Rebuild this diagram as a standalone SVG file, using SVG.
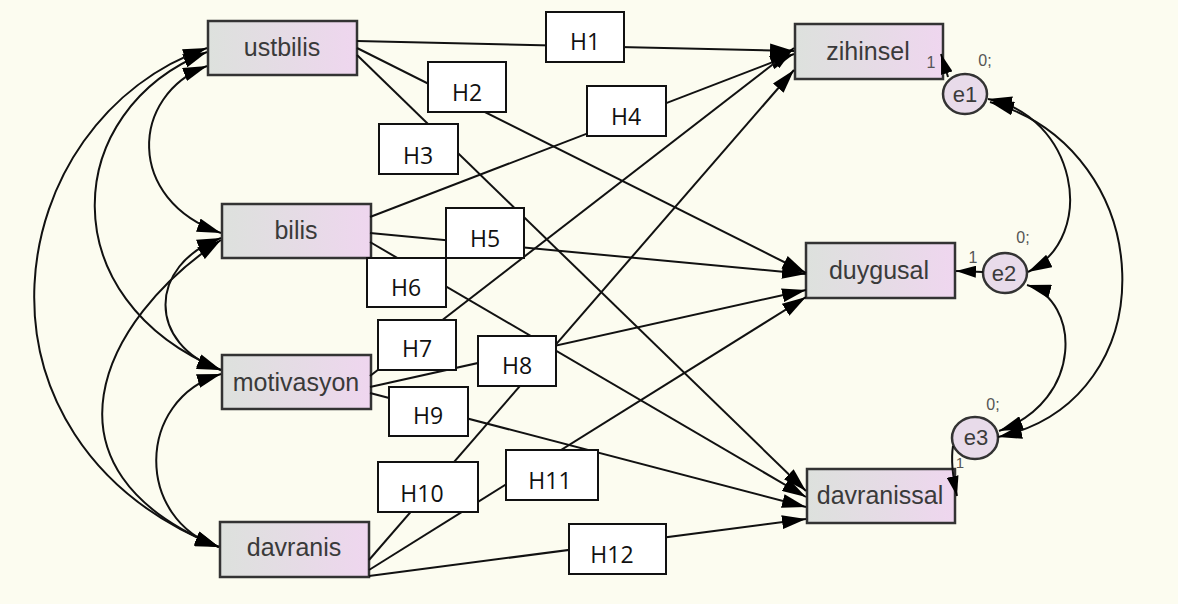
<svg xmlns="http://www.w3.org/2000/svg" width="1192" height="612" viewBox="0 0 1192 612">
  <defs>
    <linearGradient id="boxFill" x1="0" y1="0" x2="1" y2="0">
      <stop offset="0" stop-color="#dde1dd"/>
      <stop offset="0.55" stop-color="#e6dbe6"/>
      <stop offset="1" stop-color="#efd6ef"/>
    </linearGradient>
    <marker id="head" markerUnits="userSpaceOnUse" markerWidth="24" markerHeight="14" refX="24" refY="7" orient="auto-start-reverse" viewBox="0 0 24 14">
      <path d="M0,0 L24,7 L0,14 Z" fill="#000"/>
    </marker>
    <marker id="headSmall" markerUnits="userSpaceOnUse" markerWidth="20" markerHeight="12" refX="20" refY="6" orient="auto-start-reverse" viewBox="0 0 20 12">
      <path d="M0,0 L20,6 L0,12 Z" fill="#000"/>
    </marker>
  </defs>
  <style>
    .bg { fill: #fcfcf0; }
    .node rect { fill: url(#boxFill); stroke: #333; stroke-width: 2.5; }
    .node ellipse { fill: #e8dbea; stroke: #333; stroke-width: 2.5; }
    .name { font-family: "Liberation Sans", Arial, sans-serif; font-size: 25px; fill: #3a3a3a; text-anchor: middle; }
    .ename { font-family: "Liberation Sans", Arial, sans-serif; font-size: 22px; fill: #3a3a3a; text-anchor: middle; }
    .small { font-family: "Liberation Sans", Arial, sans-serif; font-size: 16px; fill: #555; text-anchor: middle; }
    .path { fill: none; stroke: #111; stroke-width: 2; marker-end: url(#head); }
    .cov { fill: none; stroke: #111; stroke-width: 2; marker-start: url(#head); marker-end: url(#head); }
    .err { fill: none; stroke: #111; stroke-width: 2; marker-end: url(#headSmall); }
    .hbox rect { fill: #fff; stroke: #111; stroke-width: 2; }
    .hbox text { font-family: "Open Sans", "Liberation Sans", sans-serif; font-size: 23px; fill: #111; text-anchor: middle; }
  </style>

  <rect x="0" y="0" width="1192" height="612" fill="#ffffff"/>
  <rect class="bg" x="0" y="0" width="1178" height="604"/>

  <g id="ustbilis" class="node">
    <rect x="208" y="21" width="149" height="54"/>
    <text class="name" x="282" y="56">ustbilis</text>
  </g>
  <g id="bilis" class="node">
    <rect x="222" y="204" width="149" height="54"/>
    <text class="name" x="296" y="239">bilis</text>
  </g>
  <g id="motivasyon" class="node">
    <rect x="222" y="355" width="149" height="54"/>
    <text class="name" x="296" y="391">motivasyon</text>
  </g>
  <g id="davranis" class="node">
    <rect x="220" y="522" width="149" height="55"/>
    <text class="name" x="294" y="556">davranis</text>
  </g>

  <g id="zihinsel" class="node">
    <rect x="795" y="24" width="148" height="55"/>
    <text class="name" x="868" y="60">zihinsel</text>
  </g>
  <g id="duygusal" class="node">
    <rect x="806" y="243" width="149" height="55"/>
    <text class="name" x="879" y="279">duygusal</text>
  </g>
  <g id="davranissal" class="node">
    <rect x="807" y="469" width="148" height="54"/>
    <text class="name" x="880" y="504">davranissal</text>
  </g>

  <g id="e1" class="node">
    <ellipse cx="965" cy="94" rx="22" ry="20"/>
    <text class="ename" x="965" y="102">e1</text>
    <text class="small" x="985" y="66">0;</text>
    <text class="small" x="931" y="68">1</text>
  </g>
  <g id="e2" class="node">
    <ellipse cx="1005" cy="273" rx="22" ry="20"/>
    <text class="ename" x="1004" y="281">e2</text>
    <text class="small" x="1023" y="243">0;</text>
    <text class="small" x="973" y="263">1</text>
  </g>
  <g id="e3" class="node">
    <ellipse cx="975" cy="438" rx="23" ry="21"/>
    <text class="ename" x="976" y="445">e3</text>
    <text class="small" x="960" y="468" style="font-size:15px">1</text>
    <text class="small" x="993" y="410">0;</text>
  </g>

  <g id="connectors">
    <!-- covariances among the exogenous variables -->
    <path class="cov" d="M207,66 C130,95 125,200 221,233"/>
    <path class="cov" d="M221,238 C147,265 147,345 221,370"/>
    <path class="cov" d="M221,374 C135,400 135,520 219,547"/>
    <path class="cov" d="M207,52 C60,110 50,300 221,370"/>
    <path class="cov" d="M221,240 C100,320 30,470 219,547"/>
    <path class="cov" d="M207,48 C0,120 -50,440 219,547"/>

    <!-- direct effects -->
    <path class="path" d="M357,41 L794,51"/>
    <path class="path" d="M357,48 L806,273"/>
    <path class="path" d="M357,55 L806,491"/>
    <path class="path" d="M370,217 L794,54"/>
    <path class="path" d="M370,233 L806,274"/>
    <path class="path" d="M370,242 L806,497"/>
    <path class="path" d="M370,376 L794,48"/>
    <path class="path" d="M370,387 L806,290"/>
    <path class="path" d="M370,393 L806,507"/>
    <path class="path" d="M369,560 L794,70"/>
    <path class="path" d="M369,570 L806,297"/>
    <path class="path" d="M369,576 L806,519"/>

    <!-- error terms -->
    <path class="err" d="M948,77 L941,54"/>
    <path class="err" d="M983,272 L956,271"/>
    <path class="err" d="M953,446 Q950,465 957,496"/>

    <!-- error covariances -->
    <path class="cov" d="M988,99 C1075,115 1100,235 1028,272"/>
    <path class="cov" d="M990,102 C1160,150 1170,400 998,437"/>
    <path class="cov" d="M1027,285 C1080,300 1085,400 999,431"/>
  </g>

  <g id="hypotheses" class="hbox">
    <rect x="546" y="12" width="78" height="50"/><text x="585" y="50">H1</text>
    <rect x="428" y="62" width="78" height="50"/><text x="467" y="101">H2</text>
    <rect x="379" y="124" width="79" height="50"/><text x="418" y="164">H3</text>
    <rect x="587" y="86" width="79" height="50"/><text x="626" y="125">H4</text>
    <rect x="446" y="208" width="78" height="50"/><text x="485" y="247">H5</text>
    <rect x="367" y="258" width="79" height="49"/><text x="406" y="296">H6</text>
    <rect x="378" y="320" width="78" height="50"/><text x="417" y="357">H7</text>
    <rect x="478" y="336" width="78" height="50"/><text x="517" y="374">H8</text>
    <rect x="389" y="387" width="79" height="49"/><text x="428" y="424">H9</text>
    <rect x="378" y="462" width="100" height="50"/><text x="422" y="502">H10</text>
    <rect x="506" y="450" width="92" height="50"/><text x="550" y="489">H11</text>
    <rect x="569" y="524" width="97" height="50"/><text x="612" y="563">H12</text>
  </g>
</svg>
